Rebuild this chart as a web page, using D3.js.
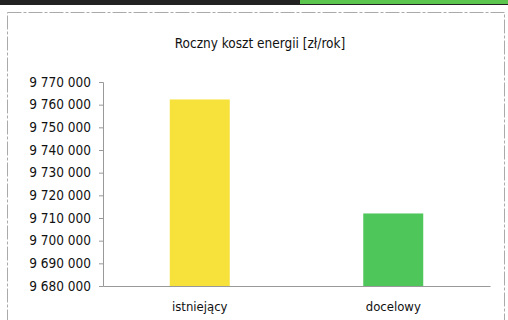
<!DOCTYPE html>
<html>
<head>
<meta charset="utf-8">
<script src="https://cdn.jsdelivr.net/npm/d3@7"></script>
<style>
body { margin: 0; background: #fff; }
</style>
</head>
<body>
<div id="chart"></div>
<script>
var categories = ["istniejący", "docelowy"];
var values = [9762300, 9712000];
var barColors = ["#f6e23a", "#4fc65a"];
var tickValues = [9680000, 9690000, 9700000, 9710000, 9720000, 9730000, 9740000, 9750000, 9760000, 9770000];
var title = "Roczny koszt energii [zł/rok]";

var width = 508, height = 320;
var margin = {left: 103, right: 18, top: 82, bottom: 34};
var font = "'DejaVu Sans Condensed', 'DejaVu Sans', sans-serif";

var svg = d3.select("#chart").append("svg")
    .attr("width", width)
    .attr("height", height)
    .style("font-family", font);

// scanned page edge above the chart
svg.append("rect").attr("x", 0).attr("y", 0).attr("width", width).attr("height", 5).attr("fill", "#222");
svg.append("rect").attr("x", 300).attr("y", 0).attr("width", 208).attr("height", 4).attr("fill", "#5cc54e");

// outer chart frame
svg.append("rect")
    .attr("x", 7.5).attr("y", 12.5)
    .attr("width", 497).attr("height", 320)
    .attr("fill", "none")
    .attr("stroke", "#aaa")
    .attr("stroke-dasharray", "14,2,3,2");

svg.append("text")
    .attr("x", 260).attr("y", 48)
    .attr("text-anchor", "middle")
    .attr("font-size", 13.5)
    .attr("fill", "#111")
    .text(title);

var x = d3.scaleBand()
    .domain(categories)
    .range([margin.left, width - margin.right])
    .paddingInner(0.69)
    .paddingOuter(0.345);

var y = d3.scaleLinear()
    .domain([9680000, 9770000])
    .range([height - margin.bottom, margin.top]);

var fmt = function (d) { return d3.format(",")(d).replace(/,/g, " "); };

var yAxis = svg.append("g")
    .attr("transform", "translate(" + margin.left + ",0)")
    .call(d3.axisLeft(y).tickValues(tickValues).tickFormat(fmt).tickSize(4).tickPadding(8));
yAxis.select(".domain").attr("stroke", "#999");
yAxis.selectAll(".tick line").attr("stroke", "#999");
yAxis.selectAll(".tick text")
    .attr("font-size", 13.5)
    .attr("fill", "#111")
    .style("font-family", font);

svg.selectAll(".bar")
    .data(values)
    .enter()
    .append("rect")
    .attr("class", "bar")
    .attr("x", function (d, i) { return x(categories[i]); })
    .attr("y", function (d) { return y(d); })
    .attr("width", x.bandwidth())
    .attr("height", function (d) { return y(9680000) - y(d); })
    .attr("fill", function (d, i) { return barColors[i]; });

var xAxis = svg.append("g")
    .attr("transform", "translate(0," + (height - margin.bottom) + ")")
    .call(d3.axisBottom(x).tickSize(0).tickPadding(16));
xAxis.select(".domain").attr("stroke", "#999");
xAxis.selectAll(".tick text")
    .attr("font-size", 13)
    .attr("fill", "#111")
    .style("font-family", font);
</script>
</body>
</html>
